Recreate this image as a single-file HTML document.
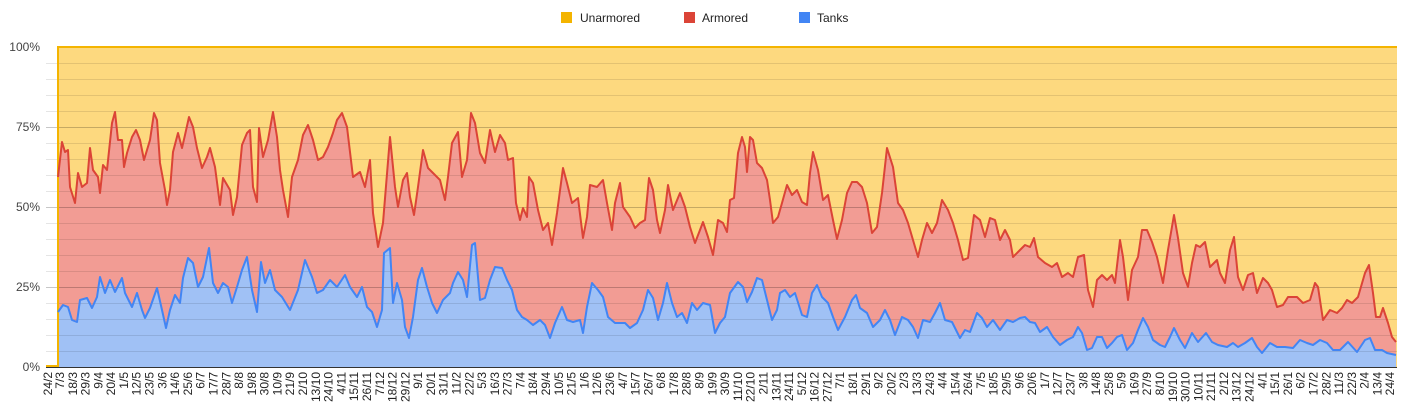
<!DOCTYPE html>
<html><head><meta charset="utf-8"><style>
html,body{margin:0;padding:0;background:#fff;}
svg{display:block;font-family:"Liberation Sans",Arial,sans-serif;}
</style></head><body>
<svg width="1409" height="415" viewBox="0 0 1409 415" xmlns="http://www.w3.org/2000/svg">
<!-- legend -->
<rect x="561" y="12" width="11" height="11" fill="#f4b400"/>
<text x="580" y="22" font-size="12" fill="#222">Unarmored</text>
<rect x="684" y="12" width="11" height="11" fill="#db4437"/>
<text x="702" y="22" font-size="12" fill="#222">Armored</text>
<rect x="799" y="12" width="11" height="11" fill="#4285f4"/>
<text x="817" y="22" font-size="12" fill="#222">Tanks</text>

<!-- areas -->
<rect x="58" y="47" width="1339" height="320" fill="#fdd97f"/>
<polygon id="red" fill="#f29c94" points="58,367 58,177 62,142 65,152 68,150 70,187 75,203 78,173 82,187 87,183 90,148 93,170 98,177 100,193 103,165 107,170 112,123 115,112 118,140 122,140 124,167 127,153 132,137 136,130 140,140 144,160 150,140 154,113 157,120 160,163 165,190 167,205 170,190 173,152 178,133 182,148 185,135 189,117 193,127 197,148 202,168 207,157 210,148 215,167 220,205 223,178 230,190 233,215 237,197 242,145 247,133 250,130 253,187 257,202 259,128 263,157 268,140 273,112 277,137 280,170 283,190 288,217 292,177 298,160 303,135 308,125 313,140 318,160 323,157 328,147 333,133 337,120 342,113 347,127 353,177 360,172 365,187 370,160 373,213 378,247 383,223 390,137 395,187 398,207 403,180 407,173 410,197 414,215 418,187 423,150 428,168 433,173 440,180 445,200 448,177 452,143 458,132 462,177 467,160 471,113 475,123 480,153 485,163 490,130 495,152 500,135 505,143 508,160 513,158 516,203 520,220 523,208 527,217 529,177 533,183 538,210 543,230 548,223 552,245 557,213 563,168 567,183 572,203 578,198 583,238 587,217 590,185 597,187 603,180 607,203 612,230 615,203 620,183 623,207 630,217 635,228 640,223 645,220 649,178 653,190 657,220 660,233 665,210 668,185 673,210 680,193 685,207 690,227 695,243 700,230 703,222 708,237 713,255 718,220 723,223 727,232 730,200 734,198 738,153 742,137 745,147 747,172 750,137 753,140 757,163 762,168 767,180 770,200 773,223 778,217 782,203 787,185 792,195 797,190 802,202 807,205 810,173 813,152 818,170 823,200 828,195 833,220 837,239 842,220 847,193 852,182 857,182 862,187 867,203 872,233 877,227 882,193 887,148 893,167 898,203 903,210 908,223 913,240 918,257 922,240 927,223 932,233 937,223 942,200 948,210 953,223 958,240 963,260 968,258 974,215 980,220 985,237 990,218 995,220 1000,240 1005,230 1010,240 1013,257 1020,250 1025,245 1030,247 1034,238 1038,257 1045,263 1052,267 1057,263 1062,277 1068,273 1073,277 1078,257 1084,255 1088,290 1093,307 1097,280 1102,275 1107,280 1112,275 1115,283 1120,240 1123,257 1128,300 1132,270 1138,257 1142,230 1147,230 1152,242 1157,257 1163,283 1168,250 1174,215 1178,238 1183,273 1188,287 1192,263 1196,245 1200,247 1205,242 1210,267 1217,260 1220,273 1225,283 1230,250 1234,237 1238,277 1243,290 1248,275 1253,273 1257,293 1263,278 1268,283 1272,290 1277,307 1283,305 1288,297 1297,297 1303,303 1310,300 1315,283 1318,287 1323,320 1330,310 1337,313 1342,308 1347,300 1352,303 1358,297 1365,273 1369,265 1373,293 1376,317 1380,317 1383,308 1388,323 1392,337 1396,342 1396,367"/>
<polygon fill="#a0c1f5" points="58,367 58,312 63,305 68,307 72,320 77,322 80,300 87,298 92,308 97,297 100,277 105,293 110,280 115,292 122,278 125,293 132,307 137,293 142,310 145,318 150,308 157,288 162,310 166,328 170,310 175,295 180,303 183,278 188,258 193,263 198,287 203,277 209,248 213,283 218,293 223,283 228,287 232,303 237,287 242,270 247,257 252,290 257,312 261,262 265,283 270,270 275,290 282,297 290,310 298,290 305,260 312,277 317,293 323,290 330,280 337,287 345,275 350,287 357,297 362,287 367,307 372,312 377,327 382,310 384,253 390,248 393,303 397,283 402,300 405,327 409,338 413,317 418,280 422,268 427,287 432,303 437,313 443,300 450,293 453,283 458,272 463,280 467,297 472,245 475,243 480,300 485,298 490,280 495,267 502,268 507,280 512,290 517,310 522,317 527,320 533,325 540,320 545,325 550,338 555,323 562,307 567,320 573,322 580,320 583,333 587,307 592,283 598,290 603,297 608,317 615,323 620,323 625,323 630,328 637,323 643,310 648,290 653,298 658,320 663,303 667,283 672,303 677,317 682,313 687,323 692,303 697,310 703,303 710,305 715,333 720,323 725,317 730,293 738,282 743,287 747,302 752,292 757,278 762,280 767,300 772,320 777,310 780,293 785,290 790,297 795,293 802,315 807,317 812,293 817,285 822,297 828,303 833,317 838,330 845,317 852,300 856,295 860,308 867,313 873,327 880,320 885,310 890,320 895,335 902,317 908,320 913,327 918,338 923,320 930,322 935,313 940,303 945,320 952,322 960,338 965,330 970,332 977,313 982,318 987,327 993,320 1000,330 1007,320 1013,322 1020,318 1025,317 1030,322 1035,323 1040,332 1047,327 1053,337 1060,345 1067,340 1073,337 1078,327 1082,333 1087,350 1092,348 1097,337 1102,337 1107,348 1112,343 1117,337 1122,335 1127,350 1133,343 1138,330 1143,318 1148,327 1153,340 1160,345 1165,347 1170,337 1174,328 1180,340 1185,348 1192,333 1198,342 1206,333 1212,342 1218,345 1227,347 1233,343 1238,347 1245,343 1252,338 1257,347 1262,353 1270,343 1277,347 1285,347 1293,348 1300,340 1307,343 1313,345 1320,340 1327,343 1333,350 1340,350 1348,342 1357,352 1365,340 1370,338 1375,350 1382,350 1387,353 1396,355 1396,367"/>

<!-- gridlines -->
<g stroke="#000" stroke-opacity="0.10" stroke-width="1">
<line x1="46" x2="1397" y1="63.5" y2="63.5"/><line x1="46" x2="1397" y1="79.5" y2="79.5"/><line x1="46" x2="1397" y1="95.5" y2="95.5"/><line x1="46" x2="1397" y1="111.5" y2="111.5"/>
<line x1="46" x2="1397" y1="143.5" y2="143.5"/><line x1="46" x2="1397" y1="159.5" y2="159.5"/><line x1="46" x2="1397" y1="175.5" y2="175.5"/><line x1="46" x2="1397" y1="191.5" y2="191.5"/>
<line x1="46" x2="1397" y1="223.5" y2="223.5"/><line x1="46" x2="1397" y1="239.5" y2="239.5"/><line x1="46" x2="1397" y1="255.5" y2="255.5"/><line x1="46" x2="1397" y1="271.5" y2="271.5"/>
<line x1="46" x2="1397" y1="303.5" y2="303.5"/><line x1="46" x2="1397" y1="319.5" y2="319.5"/><line x1="46" x2="1397" y1="335.5" y2="335.5"/><line x1="46" x2="1397" y1="351.5" y2="351.5"/>
</g>
<g stroke="#000" stroke-opacity="0.22" stroke-width="1">
<line x1="46" x2="1397" y1="127.5" y2="127.5"/><line x1="46" x2="1397" y1="207.5" y2="207.5"/><line x1="46" x2="1397" y1="287.5" y2="287.5"/>
</g>

<!-- lines -->
<polyline fill="none" stroke="#f4b400" stroke-width="2" points="58,367 58,47 1397,47"/>
<line x1="46" y1="366" x2="58" y2="366" stroke="#f4b400" stroke-width="2"/>
<polyline fill="none" stroke="#db4437" stroke-width="2" stroke-linejoin="round" points="58,177 62,142 65,152 68,150 70,187 75,203 78,173 82,187 87,183 90,148 93,170 98,177 100,193 103,165 107,170 112,123 115,112 118,140 122,140 124,167 127,153 132,137 136,130 140,140 144,160 150,140 154,113 157,120 160,163 165,190 167,205 170,190 173,152 178,133 182,148 185,135 189,117 193,127 197,148 202,168 207,157 210,148 215,167 220,205 223,178 230,190 233,215 237,197 242,145 247,133 250,130 253,187 257,202 259,128 263,157 268,140 273,112 277,137 280,170 283,190 288,217 292,177 298,160 303,135 308,125 313,140 318,160 323,157 328,147 333,133 337,120 342,113 347,127 353,177 360,172 365,187 370,160 373,213 378,247 383,223 390,137 395,187 398,207 403,180 407,173 410,197 414,215 418,187 423,150 428,168 433,173 440,180 445,200 448,177 452,143 458,132 462,177 467,160 471,113 475,123 480,153 485,163 490,130 495,152 500,135 505,143 508,160 513,158 516,203 520,220 523,208 527,217 529,177 533,183 538,210 543,230 548,223 552,245 557,213 563,168 567,183 572,203 578,198 583,238 587,217 590,185 597,187 603,180 607,203 612,230 615,203 620,183 623,207 630,217 635,228 640,223 645,220 649,178 653,190 657,220 660,233 665,210 668,185 673,210 680,193 685,207 690,227 695,243 700,230 703,222 708,237 713,255 718,220 723,223 727,232 730,200 734,198 738,153 742,137 745,147 747,172 750,137 753,140 757,163 762,168 767,180 770,200 773,223 778,217 782,203 787,185 792,195 797,190 802,202 807,205 810,173 813,152 818,170 823,200 828,195 833,220 837,239 842,220 847,193 852,182 857,182 862,187 867,203 872,233 877,227 882,193 887,148 893,167 898,203 903,210 908,223 913,240 918,257 922,240 927,223 932,233 937,223 942,200 948,210 953,223 958,240 963,260 968,258 974,215 980,220 985,237 990,218 995,220 1000,240 1005,230 1010,240 1013,257 1020,250 1025,245 1030,247 1034,238 1038,257 1045,263 1052,267 1057,263 1062,277 1068,273 1073,277 1078,257 1084,255 1088,290 1093,307 1097,280 1102,275 1107,280 1112,275 1115,283 1120,240 1123,257 1128,300 1132,270 1138,257 1142,230 1147,230 1152,242 1157,257 1163,283 1168,250 1174,215 1178,238 1183,273 1188,287 1192,263 1196,245 1200,247 1205,242 1210,267 1217,260 1220,273 1225,283 1230,250 1234,237 1238,277 1243,290 1248,275 1253,273 1257,293 1263,278 1268,283 1272,290 1277,307 1283,305 1288,297 1297,297 1303,303 1310,300 1315,283 1318,287 1323,320 1330,310 1337,313 1342,308 1347,300 1352,303 1358,297 1365,273 1369,265 1373,293 1376,317 1380,317 1383,308 1388,323 1392,337 1396,342"/>
<polyline fill="none" stroke="#4285f4" stroke-width="2" stroke-linejoin="round" points="58,312 63,305 68,307 72,320 77,322 80,300 87,298 92,308 97,297 100,277 105,293 110,280 115,292 122,278 125,293 132,307 137,293 142,310 145,318 150,308 157,288 162,310 166,328 170,310 175,295 180,303 183,278 188,258 193,263 198,287 203,277 209,248 213,283 218,293 223,283 228,287 232,303 237,287 242,270 247,257 252,290 257,312 261,262 265,283 270,270 275,290 282,297 290,310 298,290 305,260 312,277 317,293 323,290 330,280 337,287 345,275 350,287 357,297 362,287 367,307 372,312 377,327 382,310 384,253 390,248 393,303 397,283 402,300 405,327 409,338 413,317 418,280 422,268 427,287 432,303 437,313 443,300 450,293 453,283 458,272 463,280 467,297 472,245 475,243 480,300 485,298 490,280 495,267 502,268 507,280 512,290 517,310 522,317 527,320 533,325 540,320 545,325 550,338 555,323 562,307 567,320 573,322 580,320 583,333 587,307 592,283 598,290 603,297 608,317 615,323 620,323 625,323 630,328 637,323 643,310 648,290 653,298 658,320 663,303 667,283 672,303 677,317 682,313 687,323 692,303 697,310 703,303 710,305 715,333 720,323 725,317 730,293 738,282 743,287 747,302 752,292 757,278 762,280 767,300 772,320 777,310 780,293 785,290 790,297 795,293 802,315 807,317 812,293 817,285 822,297 828,303 833,317 838,330 845,317 852,300 856,295 860,308 867,313 873,327 880,320 885,310 890,320 895,335 902,317 908,320 913,327 918,338 923,320 930,322 935,313 940,303 945,320 952,322 960,338 965,330 970,332 977,313 982,318 987,327 993,320 1000,330 1007,320 1013,322 1020,318 1025,317 1030,322 1035,323 1040,332 1047,327 1053,337 1060,345 1067,340 1073,337 1078,327 1082,333 1087,350 1092,348 1097,337 1102,337 1107,348 1112,343 1117,337 1122,335 1127,350 1133,343 1138,330 1143,318 1148,327 1153,340 1160,345 1165,347 1170,337 1174,328 1180,340 1185,348 1192,333 1198,342 1206,333 1212,342 1218,345 1227,347 1233,343 1238,347 1245,343 1252,338 1257,347 1262,353 1270,343 1277,347 1285,347 1293,348 1300,340 1307,343 1313,345 1320,340 1327,343 1333,350 1340,350 1348,342 1357,352 1365,340 1370,338 1375,350 1382,350 1387,353 1396,355"/>
<line x1="46" y1="367.5" x2="1397" y2="367.5" stroke="#333" stroke-width="1"/>

<!-- y labels -->
<g font-size="12" fill="#444" text-anchor="end">
<text x="40" y="51">100%</text><text x="40" y="131">75%</text><text x="40" y="211">50%</text><text x="40" y="291">25%</text><text x="40" y="371">0%</text>
</g>

<!-- x labels -->
<g font-size="12" fill="#222" text-anchor="end">
<text transform="translate(52,372) rotate(-90)">24/2</text>
<text transform="translate(64.0,372) rotate(-90)">7/3</text>
<text transform="translate(76.8,372) rotate(-90)">18/3</text>
<text transform="translate(89.6,372) rotate(-90)">29/3</text>
<text transform="translate(102.4,372) rotate(-90)">9/4</text>
<text transform="translate(115.2,372) rotate(-90)">20/4</text>
<text transform="translate(127.9,372) rotate(-90)">1/5</text>
<text transform="translate(140.7,372) rotate(-90)">12/5</text>
<text transform="translate(153.5,372) rotate(-90)">23/5</text>
<text transform="translate(166.3,372) rotate(-90)">3/6</text>
<text transform="translate(179.1,372) rotate(-90)">14/6</text>
<text transform="translate(191.9,372) rotate(-90)">25/6</text>
<text transform="translate(204.7,372) rotate(-90)">6/7</text>
<text transform="translate(217.5,372) rotate(-90)">17/7</text>
<text transform="translate(230.3,372) rotate(-90)">28/7</text>
<text transform="translate(243.1,372) rotate(-90)">8/8</text>
<text transform="translate(255.9,372) rotate(-90)">19/8</text>
<text transform="translate(268.6,372) rotate(-90)">30/8</text>
<text transform="translate(281.4,372) rotate(-90)">10/9</text>
<text transform="translate(294.2,372) rotate(-90)">21/9</text>
<text transform="translate(307.0,372) rotate(-90)">2/10</text>
<text transform="translate(319.8,372) rotate(-90)">13/10</text>
<text transform="translate(332.6,372) rotate(-90)">24/10</text>
<text transform="translate(345.4,372) rotate(-90)">4/11</text>
<text transform="translate(358.2,372) rotate(-90)">15/11</text>
<text transform="translate(371.0,372) rotate(-90)">26/11</text>
<text transform="translate(383.8,372) rotate(-90)">7/12</text>
<text transform="translate(396.5,372) rotate(-90)">18/12</text>
<text transform="translate(409.3,372) rotate(-90)">29/12</text>
<text transform="translate(422.1,372) rotate(-90)">9/1</text>
<text transform="translate(434.9,372) rotate(-90)">20/1</text>
<text transform="translate(447.7,372) rotate(-90)">31/1</text>
<text transform="translate(460.5,372) rotate(-90)">11/2</text>
<text transform="translate(473.3,372) rotate(-90)">22/2</text>
<text transform="translate(486.1,372) rotate(-90)">5/3</text>
<text transform="translate(498.9,372) rotate(-90)">16/3</text>
<text transform="translate(511.7,372) rotate(-90)">27/3</text>
<text transform="translate(524.5,372) rotate(-90)">7/4</text>
<text transform="translate(537.2,372) rotate(-90)">18/4</text>
<text transform="translate(550.0,372) rotate(-90)">29/4</text>
<text transform="translate(562.8,372) rotate(-90)">10/5</text>
<text transform="translate(575.6,372) rotate(-90)">21/5</text>
<text transform="translate(588.4,372) rotate(-90)">1/6</text>
<text transform="translate(601.2,372) rotate(-90)">12/6</text>
<text transform="translate(614.0,372) rotate(-90)">23/6</text>
<text transform="translate(626.8,372) rotate(-90)">4/7</text>
<text transform="translate(639.6,372) rotate(-90)">15/7</text>
<text transform="translate(652.4,372) rotate(-90)">26/7</text>
<text transform="translate(665.2,372) rotate(-90)">6/8</text>
<text transform="translate(677.9,372) rotate(-90)">17/8</text>
<text transform="translate(690.7,372) rotate(-90)">28/8</text>
<text transform="translate(703.5,372) rotate(-90)">8/9</text>
<text transform="translate(716.3,372) rotate(-90)">19/9</text>
<text transform="translate(729.1,372) rotate(-90)">30/9</text>
<text transform="translate(741.9,372) rotate(-90)">11/10</text>
<text transform="translate(754.7,372) rotate(-90)">22/10</text>
<text transform="translate(767.5,372) rotate(-90)">2/11</text>
<text transform="translate(780.3,372) rotate(-90)">13/11</text>
<text transform="translate(793.1,372) rotate(-90)">24/11</text>
<text transform="translate(805.9,372) rotate(-90)">5/12</text>
<text transform="translate(818.6,372) rotate(-90)">16/12</text>
<text transform="translate(831.4,372) rotate(-90)">27/12</text>
<text transform="translate(844.2,372) rotate(-90)">7/1</text>
<text transform="translate(857.0,372) rotate(-90)">18/1</text>
<text transform="translate(869.8,372) rotate(-90)">29/1</text>
<text transform="translate(882.6,372) rotate(-90)">9/2</text>
<text transform="translate(895.4,372) rotate(-90)">20/2</text>
<text transform="translate(908.2,372) rotate(-90)">2/3</text>
<text transform="translate(921.0,372) rotate(-90)">13/3</text>
<text transform="translate(933.8,372) rotate(-90)">24/3</text>
<text transform="translate(946.6,372) rotate(-90)">4/4</text>
<text transform="translate(959.3,372) rotate(-90)">15/4</text>
<text transform="translate(972.1,372) rotate(-90)">26/4</text>
<text transform="translate(984.9,372) rotate(-90)">7/5</text>
<text transform="translate(997.7,372) rotate(-90)">18/5</text>
<text transform="translate(1010.5,372) rotate(-90)">29/5</text>
<text transform="translate(1023.3,372) rotate(-90)">9/6</text>
<text transform="translate(1036.1,372) rotate(-90)">20/6</text>
<text transform="translate(1048.9,372) rotate(-90)">1/7</text>
<text transform="translate(1061.7,372) rotate(-90)">12/7</text>
<text transform="translate(1074.5,372) rotate(-90)">23/7</text>
<text transform="translate(1087.3,372) rotate(-90)">3/8</text>
<text transform="translate(1100.0,372) rotate(-90)">14/8</text>
<text transform="translate(1112.8,372) rotate(-90)">25/8</text>
<text transform="translate(1125.6,372) rotate(-90)">5/9</text>
<text transform="translate(1138.4,372) rotate(-90)">16/9</text>
<text transform="translate(1151.2,372) rotate(-90)">27/9</text>
<text transform="translate(1164.0,372) rotate(-90)">8/10</text>
<text transform="translate(1176.8,372) rotate(-90)">19/10</text>
<text transform="translate(1189.6,372) rotate(-90)">30/10</text>
<text transform="translate(1202.4,372) rotate(-90)">10/11</text>
<text transform="translate(1215.2,372) rotate(-90)">21/11</text>
<text transform="translate(1228.0,372) rotate(-90)">2/12</text>
<text transform="translate(1240.7,372) rotate(-90)">13/12</text>
<text transform="translate(1253.5,372) rotate(-90)">24/12</text>
<text transform="translate(1266.3,372) rotate(-90)">4/1</text>
<text transform="translate(1279.1,372) rotate(-90)">15/1</text>
<text transform="translate(1291.9,372) rotate(-90)">26/1</text>
<text transform="translate(1304.7,372) rotate(-90)">6/2</text>
<text transform="translate(1317.5,372) rotate(-90)">17/2</text>
<text transform="translate(1330.3,372) rotate(-90)">28/2</text>
<text transform="translate(1343.1,372) rotate(-90)">11/3</text>
<text transform="translate(1355.9,372) rotate(-90)">22/3</text>
<text transform="translate(1368.7,372) rotate(-90)">2/4</text>
<text transform="translate(1381.4,372) rotate(-90)">13/4</text>
<text transform="translate(1394.2,372) rotate(-90)">24/4</text>
</g>
</svg>
</body></html>
